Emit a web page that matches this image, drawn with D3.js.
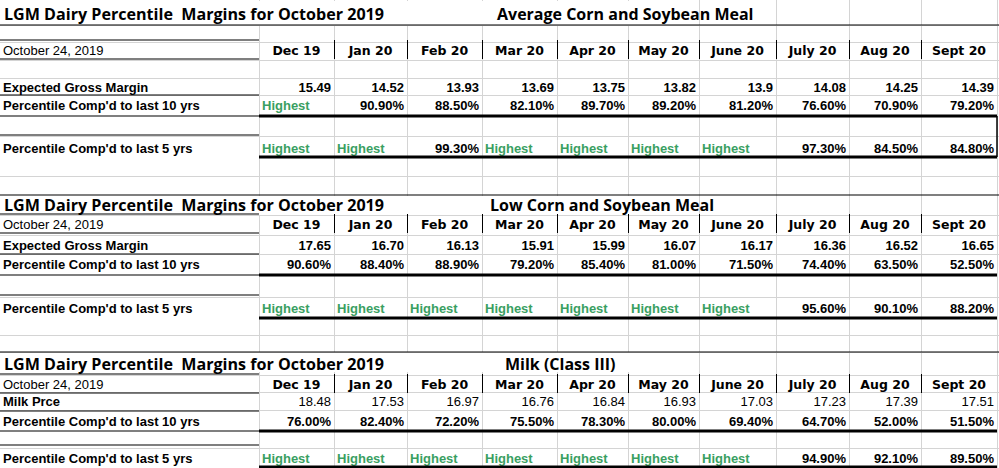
<!DOCTYPE html>
<html><head><meta charset="utf-8">
<script src="https://cdn.jsdelivr.net/npm/d3@7"></script>
<style>body{margin:0;background:#fff} text{white-space:pre}</style>
</head><body><svg id="sheet"></svg>
<script>
const months = ['Dec 19','Jan 20','Feb 20','Mar 20','Apr 20','May 20','June 20','July 20','Aug 20','Sept 20']
const titles = ['Average Corn and Soybean Meal', 'Low Corn and Soybean Meal', 'Milk (Class III)']
const priceLabels = ['Expected Gross Margin', 'Expected Gross Margin', 'Milk Prce']
const prices = [
  ['15.49','14.52','13.93','13.69','13.75','13.82','13.9','14.08','14.25','14.39'],
  ['17.65','16.70','16.13','15.91','15.99','16.07','16.17','16.36','16.52','16.65'],
  ['18.48','17.53','16.97','16.76','16.84','16.93','17.03','17.23','17.39','17.51']
]
const pct10 = [
  ['Highest','90.90%','88.50%','82.10%','89.70%','89.20%','81.20%','76.60%','70.90%','79.20%'],
  ['90.60%','88.40%','88.90%','79.20%','85.40%','81.00%','71.50%','74.40%','63.50%','52.50%'],
  ['76.00%','82.40%','72.20%','75.50%','78.30%','80.00%','69.40%','64.70%','52.00%','51.50%']
]
const pct5 = [
  ['Highest','Highest','99.30%','Highest','Highest','Highest','Highest','97.30%','84.50%','84.80%'],
  ['Highest','Highest','Highest','Highest','Highest','Highest','Highest','95.60%','90.10%','88.20%'],
  ['Highest','Highest','Highest','Highest','Highest','Highest','Highest','94.90%','92.10%','89.50%']
]

const W = 999, H = 468
const svg = d3.select('#sheet').attr('width', W).attr('height', H)
const colEdges = [0, 259, 334, 407, 482, 557, 628, 699, 776, 849, 921, 997]
const sections = [
  {top: 0, title: 20, header: 56, price: 92, p10: 110, p10line: 116, p5: 153, p5line: 157, gaps: [25, 42, 60, 78, 95, 136, 176]},
  {top: 195, title: 211, header: 230, price: 250, p10: 269, p10line: 275, p5: 313, p5line: 318, gaps: [215, 235, 254, 297, 335, 352]},
  {top: 352, title: 370, header: 390, price: 406, p10: 426, p10line: 431, p5: 463, p5line: 467, gaps: [375, 392, 410, 448]}
]
const green = '#3a9f62'
const grid = '#d4d4d4'

const g = svg.append('g').attr('stroke', grid).attr('stroke-width', 1)
colEdges.slice(1).forEach(x => g.append('line').attr('x1', x + .5).attr('x2', x + .5).attr('y1', 0).attr('y2', H))
sections.forEach(s => s.gaps.forEach(y => g.append('line').attr('x1', 0).attr('x2', W).attr('y1', y + .5).attr('y2', y + .5)))

function cellX(i, anchor) {
  if (anchor === 'start') return colEdges[i + 1] + 3
  if (anchor === 'end') return colEdges[i + 2] - 3
  return (colEdges[i + 1] + colEdges[i + 2]) / 2
}
function hline(x1, x2, y, w) {
  svg.append('line').attr('x1', x1).attr('x2', x2).attr('y1', y).attr('y2', y)
     .attr('stroke', '#000').attr('stroke-width', w)
}

sections.forEach((s, k) => {
  svg.append('rect').attr('x', 0).attr('y', s.top + 1).attr('width', 640).attr('height', (k === 0 ? 24 : 19)).attr('fill', '#fff')
  svg.append('text').attr('x', 4).attr('y', s.title)
     .attr('font-family', 'Open Sans, sans-serif').attr('font-weight', 700).attr('font-size', 16)
     .attr('textLength', 380).attr('lengthAdjust', 'spacingAndGlyphs')
     .text('LGM Dairy Percentile  Margins for October 2019')
  svg.append('text').attr('x', [497, 490, 505][k]).attr('y', s.title)
     .attr('font-family', 'Open Sans, sans-serif').attr('font-weight', 700).attr('font-size', 16)
     .text(titles[k])

  const font = t => t.attr('font-family', 'Liberation Sans, Arial, sans-serif').attr('font-size', 13)
  font(svg.append('text').attr('x', 3).attr('y', s.header - 1)).text('October 24, 2019')
  font(svg.append('text').attr('x', 3).attr('y', s.price)).attr('font-weight', 700).text(priceLabels[k])
  font(svg.append('text').attr('x', 3).attr('y', s.p10)).attr('font-weight', 700).text("Percentile Comp'd to last 10 yrs")
  font(svg.append('text').attr('x', 3).attr('y', s.p5)).attr('font-weight', 700).text("Percentile Comp'd to last 5 yrs")

  months.forEach((m, i) => {
    font(svg.append('text').attr('x', cellX(i, 'middle')).attr('y', s.header - 1)
      .attr('text-anchor', 'middle').attr('font-weight', 700)).attr('font-family', 'DejaVu Sans, sans-serif').attr('font-size', 12.5).text(m)
    font(svg.append('text').attr('x', cellX(i, 'end')).attr('y', s.price).attr('text-anchor', 'end')
      .attr('font-weight', k === 2 ? 400 : 700)).text(prices[k][i])
    const v10 = pct10[k][i], v5 = pct5[k][i]
    font(svg.append('text').attr('x', cellX(i, v10 === 'Highest' ? 'start' : 'end')).attr('y', s.p10)
      .attr('text-anchor', v10 === 'Highest' ? 'start' : 'end').attr('font-weight', 700)
      .attr('fill', v10 === 'Highest' ? green : '#000')).text(v10)
    font(svg.append('text').attr('x', cellX(i, v5 === 'Highest' ? 'start' : 'end')).attr('y', s.p5)
      .attr('text-anchor', v5 === 'Highest' ? 'start' : 'end').attr('font-weight', 700)
      .attr('fill', v5 === 'Highest' ? green : '#000')).text(v5)
  })
  hline(0, 259, s.header - 16, 1.2)
  hline(0, 259, s.header + 3, 1.2)
  hline(0, 259, s.p10 - 15, 1.2)
  hline(0, 259, s.p10line, 1.2)
  hline(0, 259, s.p5 - 18, 1.2)
  hline(259, 997, s.p10line, 3)
  hline(259, 997, s.p5line, 3)
  months.forEach((m, i) => {
    if (i > 0) svg.append('line').attr('x1', colEdges[i + 1] + .5).attr('x2', colEdges[i + 1] + .5)
      .attr('y1', s.header - 16).attr('y2', s.header + 3).attr('stroke', '#000')
  })
})
hline(0, W, 25, 1.2)
hline(0, W, 195, 1.2)
hline(0, W, 352, 1.2)
svg.append('line').attr('x1', 997).attr('x2', 997).attr('y1', 116).attr('y2', 157).attr('stroke', '#000').attr('stroke-width', 1.5)
</script></body></html>
